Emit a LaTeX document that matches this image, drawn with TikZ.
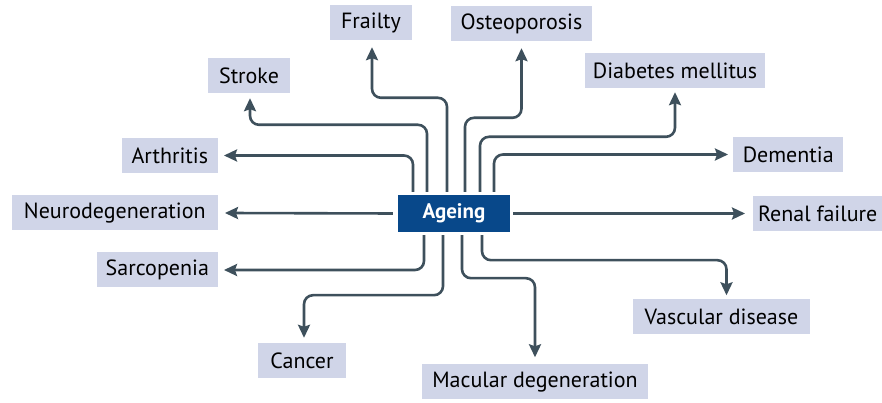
\documentclass[tikz,border=0pt]{standalone}
\usepackage{fontspec}
\setmainfont{PT Sans}
\usetikzlibrary{arrows.meta,positioning,calc}
\definecolor{boxlav}{RGB}{208,213,232}
\definecolor{hubblue}{RGB}{8,72,138}
\definecolor{lineslate}{RGB}{62,80,92}

\begin{document}
\begin{tikzpicture}[x=1pt,y=1pt,
  box/.style={fill=boxlav,minimum height=35pt,inner xsep=2pt,font=\fontsize{22}{24}\selectfont},
  hub/.style={fill=hubblue,text=white,minimum width=112pt,minimum height=37pt,font=\fontsize{21}{24}\selectfont\bfseries},
  link/.style={lineslate,line width=2.6pt,rounded corners=9pt,-{Stealth[length=13pt,width=12pt,inset=2pt]}}]
\useasboundingbox (0,0) rectangle (882,403);
% centre
\node[hub] (ageing) at (454,189.5) {Ageing};
% top row
\node[box,minimum width=82pt] (frailty) at (371,380.5) {Frailty};
\node[box,minimum width=141pt] (osteo) at (521.5,379.5) {Osteoporosis};
\node[box,minimum width=82pt] (stroke) at (249,327.5) {Stroke};
\node[box,minimum width=180pt] (diabetes) at (675,332.5) {Diabetes mellitus};
% left column
\node[box,anchor=east,minimum width=96pt] (arthritis) at (218,247.5) {Arthritis};
\node[box,anchor=east,minimum width=206pt] (neuro) at (218,190) {Neurodegeneration};
\node[box,anchor=east,minimum width=121pt] (sarcopenia) at (218,133) {Sarcopenia};
% right column
\node[box,anchor=west,minimum width=110pt] (dementia) at (733,248.5) {Dementia};
\node[box,anchor=west,minimum width=129pt] (renal) at (753,189.5) {Renal failure};
% bottom row
\node[box,minimum width=177pt] (vascular) at (721.5,86) {Vascular disease};
\node[box,minimum width=88pt] (cancer) at (302,42.5) {Cancer};
\node[box,minimum width=226pt] (macular) at (535,21) {Macular degeneration};

% arrows leaving the top
\draw[link] ([xshift=-41pt,yshift=3pt]ageing.north) |- ([xshift=6pt]arthritis.east);
\draw[link] ([xshift=-27pt,yshift=3pt]ageing.north) -- ++(0,67) -| ([xshift=1pt,yshift=-5pt]stroke.south);
\draw[link] ([xshift=-7pt,yshift=3pt]ageing.north) -- ++(0,94) -| ([xshift=1pt,yshift=-7pt]frailty.south);
\draw[link] ([xshift=11pt,yshift=3pt]ageing.north) -- ++(0,74) -| ([yshift=-7pt]osteo.south);
\draw[link] ([xshift=26pt,yshift=3pt]ageing.north) -- ++(0,55) -| ([yshift=-4pt]diabetes.south);
\draw[link] ([xshift=40pt,yshift=3pt]ageing.north) |- ([xshift=-5pt]dementia.west);
% arrows leaving the sides
\draw[link] ([xshift=-5pt]ageing.west) -- ([xshift=7pt]neuro.east);
\draw[link] ([xshift=3pt]ageing.east) -- ([xshift=-8pt]renal.west);
% arrows leaving the bottom
\draw[link] ([xshift=-30pt,yshift=-3pt]ageing.south) |- ([xshift=6pt]sarcopenia.east);
\draw[link] ([xshift=-11pt,yshift=-3pt]ageing.south) -- ++(0,-60) -| ([xshift=2pt,yshift=5pt]cancer.north);
\draw[link] ([xshift=8pt,yshift=-3pt]ageing.south) -- ++(0,-43) -| ([yshift=7pt]macular.north);
\draw[link] ([xshift=28pt,yshift=-3pt]ageing.south) -- ++(0,-25) -| ([xshift=5pt,yshift=4pt]vascular.north);
\end{tikzpicture}
\end{document}
